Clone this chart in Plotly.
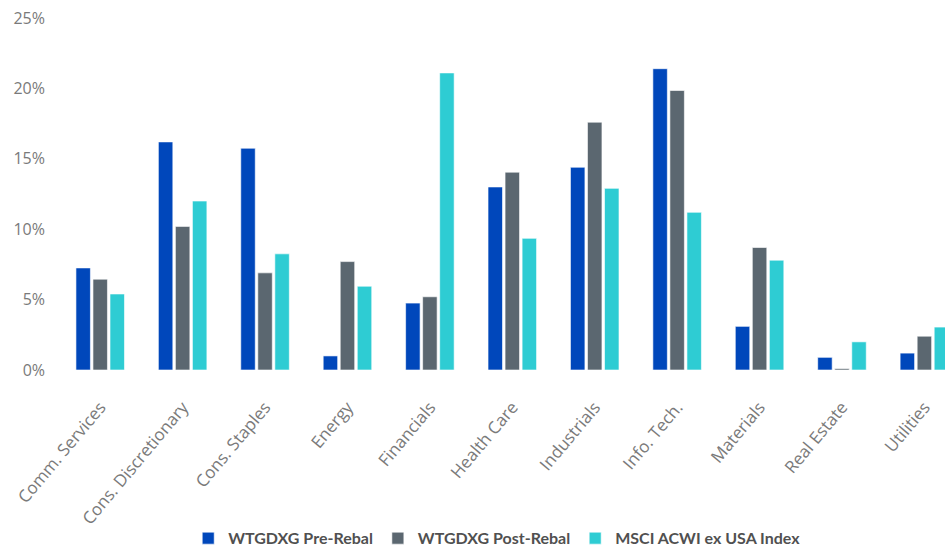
import plotly.graph_objects as go

categories = ["Comm. Services", "Cons. Discretionary", "Cons. Staples", "Energy",
              "Financials", "Health Care", "Industrials", "Info. Tech.",
              "Materials", "Real Estate", "Utilities"]
pre_rebal = [7.25, 16.2, 15.75, 1.0, 4.75, 13.0, 14.4, 21.4, 3.1, 0.9, 1.2]
post_rebal = [6.45, 10.2, 6.9, 7.7, 5.2, 14.05, 17.6, 19.85, 8.7, 0.1, 2.4]
msci_acwi = [5.4, 12.0, 8.25, 5.95, 21.1, 9.35, 12.9, 11.2, 7.8, 2.0, 3.05]
y_ticks = [0, 5, 10, 15, 20, 25]
y_tick_labels = ["0%", "5%", "10%", "15%", "20%", "25%"]

series = [
    ("WTGDXG Pre-Rebal", pre_rebal, "#0047BB"),
    ("WTGDXG Post-Rebal", post_rebal, "#5B6770"),
    ("MSCI ACWI ex USA Index", msci_acwi, "#2ECCD3"),
]

fig = go.Figure()
for name, vals, color in series:
    fig.add_trace(go.Bar(
        x=categories, y=vals, name=name,
        marker=dict(color=color, line=dict(color="rgba(255,255,255,0.6)", width=1)),
    ))

fig.update_layout(
    width=945, height=550,
    margin=dict(l=59, r=0, t=18, b=180, autoexpand=False),
    paper_bgcolor="white", plot_bgcolor="white",
    barmode="group", bargap=0.38, bargroupgap=0.15,
    font=dict(family="Open Sans", size=15, color="#7a7a7a"),
    showlegend=True,
    legend=dict(orientation="h", x=0.4946, xanchor="center", y=-0.478, yanchor="middle",
                font=dict(family="Lato", size=16, color="#505050", weight="bold"),
                itemwidth=30, traceorder="normal"),
    xaxis=dict(range=[-0.5, 10.25], tickangle=-50, showgrid=False, showline=False,
               zeroline=False, ticks="", automargin=False, ticklabelstandoff=23,
               tickfont=dict(family="Open Sans", size=17, color="#7a7a7a")),
    yaxis=dict(range=[0, 25], tickvals=y_ticks, ticktext=y_tick_labels, showgrid=False,
               showline=False, zeroline=False, ticks="", automargin=False,
               ticklabelstandoff=13,
               tickfont=dict(family="Open Sans", size=16, color="#7a7a7a")),
)

fig.write_html("out.html", config={"displayModeBar": False},
               post_script="document.body.style.margin='0';")
